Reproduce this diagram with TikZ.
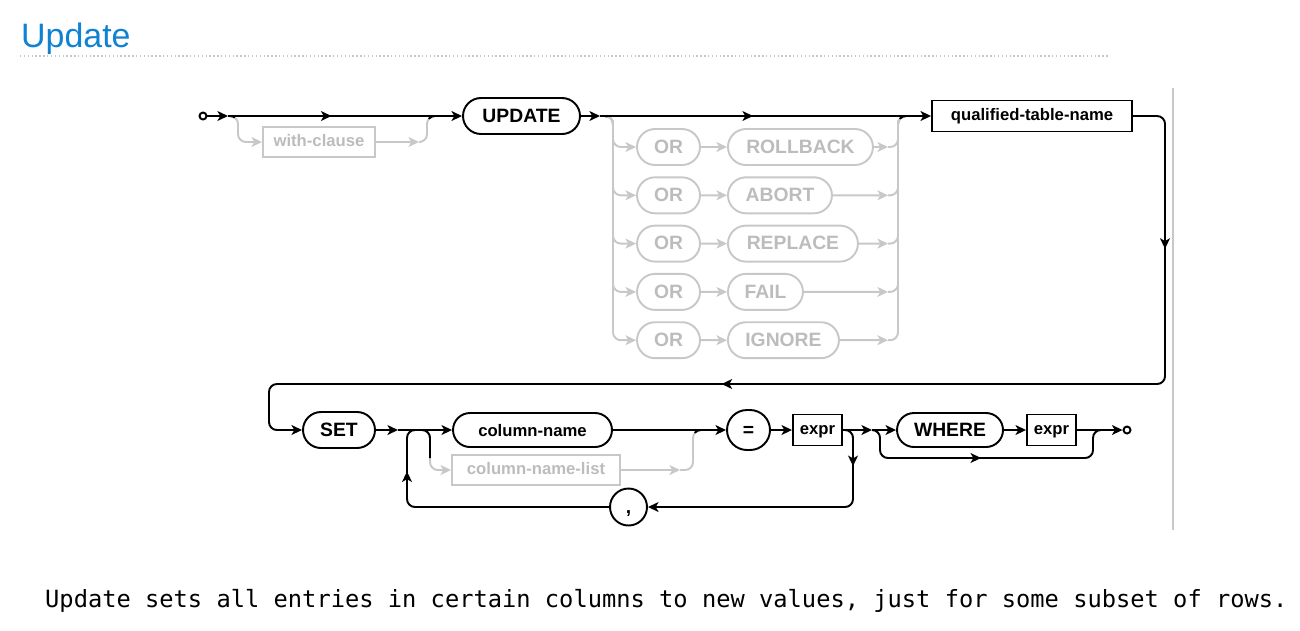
\documentclass[tikz,border=0pt]{standalone}
\usepackage{fontspec}
\setmainfont{Liberation Sans}
\newfontfamily\codefont{DejaVu Sans Mono}
\usepackage{xcolor}
\usepackage{tikz}
\usetikzlibrary{shapes.misc,arrows.meta,decorations.markings}

\definecolor{titleblue}{RGB}{16,130,210}
\definecolor{railgrey}{RGB}{200,200,200}
\definecolor{textgrey}{RGB}{188,188,188}

\tikzset{
  rail/.style={line width=1.1pt, black},
  greyrail/.style={line width=1.1pt, railgrey},
  tip/.style={-{Stealth[length=6pt,width=5.6pt,inset=1.6pt]}},
  midarrow/.style={postaction={decorate},
    decoration={markings, mark=at position #1 with {\arrow{Stealth[length=6pt,width=5.6pt,inset=1.6pt]}}}},
  twoarrows/.style 2 args={postaction={decorate},
    decoration={markings,
      mark=at position #1 with {\arrow{Stealth[length=6pt,width=5.6pt,inset=1.6pt]}},
      mark=at position #2 with {\arrow{Stealth[length=6pt,width=5.6pt,inset=1.6pt]}}}},
  hook/.style={rail, rounded corners=4.5pt, dash pattern=on 4pt off 300pt},
  keyword/.style={rounded rectangle, draw, line width=1.1pt, inner sep=0pt,
    text height=0.72em, text depth=0pt, font=\fontsize{11}{13}\selectfont\bfseries},
  ident/.style={rectangle, draw, line width=1.1pt, inner sep=0pt,
    text height=0.72em, text depth=0.2em, font=\fontsize{9.5}{11}\selectfont\bfseries},
  greykw/.style={keyword, draw=railgrey, text=textgrey},
  greyid/.style={ident, draw=railgrey, text=textgrey},
  dot/.style={circle, draw, fill=white, line width=1.1pt, inner sep=0pt, minimum size=0.14cm},
}

\begin{document}
\begin{tikzpicture}[x=0.02cm, y=-0.02cm]
    \useasboundingbox (0,0) rectangle (1300,630);

    % Heading and caption
    \node[anchor=base west, text=titleblue, font=\fontsize{19.3}{22}\selectfont] (title) at (15,47) {Update};
    \draw[railgrey, line width=0.6pt, dash pattern=on 0.8pt off 1.4pt] (20,56) -- (1108,56);
    \draw[railgrey, line width=0.6pt] (1173,88) -- (1173,530);
    \node[anchor=base west, font=\codefont\fontsize{13.5}{16}\selectfont] (caption) at (39,607)
        {Update sets all entries in certain columns to new values, just for some subset of rows.};

    % First line: UPDATE ... qualified-table-name
    \node[dot] (start) at (203,116) {};
    \coordinate (s1) at (228,116);
    \coordinate (m1) at (435,116);
    \node[keyword, minimum width=2.34cm, minimum height=0.72cm] (update) at (521.5,116) {UPDATE};
    \coordinate (s2) at (600,116);
    \coordinate (m2) at (906,116);
    \node[ident, minimum width=4cm, minimum height=0.62cm] (qtn) at (1032,116) {qualified-table-name};

    % optional with-clause
    \node[greyid, minimum width=2.24cm, minimum height=0.6cm] (with) at (319,142) {with-clause};
    \coordinate (w1) at (419,142);
    \draw[greyrail, rounded corners=4.5pt, tip] (s1) -| (238,142) -- (with);
    \draw[greyrail, tip] (with) -- (w1);
    \draw[greyrail, rounded corners=4.5pt] (w1) -| (427,116) -- (m1);

    % OR alternatives
    \foreach \kw/\w [count=\i from 0] in {ROLLBACK/2.9cm, ABORT/2.08cm, REPLACE/2.6cm, FAIL/1.5cm, IGNORE/2.22cm} {
        \node[greykw, minimum width=1.26cm, minimum height=0.72cm] (or\i) at (668.5,{147+48.3*\i}) {OR};
        \node[greykw, minimum width=\w, minimum height=0.72cm, anchor=west] (kw\i) at (727,{147+48.3*\i}) {\kw};
        \coordinate (rt\i) at (888,{147+48.3*\i});
        \draw[greyrail, rounded corners=4.5pt, tip] (s2) -| (613,{147+48.3*\i}) -- (or\i);
        \draw[greyrail, tip] (or\i) -- (kw\i);
        \draw[greyrail, tip] (kw\i) -- (rt\i);
        \draw[greyrail, rounded corners=4.5pt] (rt\i) -| (898,116) -- (m2);
    }

    % black ends of the bypass curves
    \draw[hook] (s1) -| (238,140);
    \draw[hook] (m1) -| (427,140);
    \draw[hook] (s2) -| (613,140);
    \draw[hook] (m2) -| (898,140);

    \draw[rail, tip] (start) -- (s1);
    \draw[rail, midarrow=0.5] (s1) -- (m1);
    \draw[rail, tip] (m1) -- (update);
    \draw[rail, tip] (update) -- (s2);
    \draw[rail, midarrow=0.5] (s2) -- (m2);
    \draw[rail, tip] (m2) -- (qtn);

    % Second line: SET ... WHERE expr
    \node[keyword, minimum width=1.44cm, minimum height=0.72cm] (set) at (339,430) {SET};
    \draw[rail, rounded corners=4.5pt, tip, twoarrows={0.128}{0.584}] (qtn.east) -| (1165,384) -| (269,430) -- (set);

    \coordinate (s3) at (398,430);
    \coordinate (j3) at (417,430);
    \coordinate (s4) at (422,430);
    \node[keyword, font=\fontsize{9.5}{11}\selectfont\bfseries, minimum width=3.18cm, minimum height=0.68cm] (colname) at (532.5,430) {column-name};
    \node[greyid, minimum width=3.36cm, minimum height=0.6cm] (colnamelist) at (536,470) {column-name-list};
    \coordinate (cl1) at (680,470);
    \coordinate (m3) at (701,430);
    \node[keyword, minimum width=0.86cm, minimum height=0.8cm] (eq) at (748.5,430) {=};
    \node[ident, minimum width=0.98cm, minimum height=0.62cm] (expr1) at (817.5,430) {expr};
    \node[circle, draw, line width=1.1pt, inner sep=0pt, minimum size=0.74cm,
          text height=0.72em, text depth=0pt,
          font=\fontsize{11}{13}\selectfont\bfseries] (comma) at (628.5,507) {,};
    \coordinate (s5) at (872,430);
    \node[keyword, minimum width=2.12cm, minimum height=0.68cm] (where) at (950,430) {WHERE};
    \node[ident, minimum width=0.98cm, minimum height=0.62cm] (expr2) at (1051.5,430) {expr};
    \coordinate (m5) at (1101,430);
    \node[dot] (end) at (1127,430) {};

    % column-name-list option
    \draw[greyrail, rounded corners=4.5pt, tip] (s4) -| (430,470) -- (colnamelist);
    \draw[greyrail, tip] (colnamelist) -- (cl1);
    \draw[greyrail, rounded corners=4.5pt] (cl1) -| (693,430) -- (m3);
    \draw[rail, rounded corners=4.5pt] (s4) -| (430,458);
    \draw[hook] (m3) -| (693,452);

    \draw[rail, tip] (set) -- (s3);
    \draw[rail, tip] (s3) -- (colname);
    \draw[rail] (colname) -- (m3);
    \draw[rail, tip] (m3) -- (eq);
    \draw[rail, tip] (eq) -- (expr1);

    % repeat with comma
    \draw[rail, rounded corners=4.5pt, tip, midarrow=0.15] (expr1.east) -| (853,507) -- (comma);
    \draw[rail, rounded corners=4.5pt, midarrow=0.83] (comma.west) -| (407,430) -- (j3);

    % optional WHERE
    \draw[rail, tip] (expr1) -- (s5);
    \draw[rail, tip] (s5) -- (where);
    \draw[rail, rounded corners=4.5pt, midarrow=0.48] (s5) -| (880,458) -| (1093,430) -- (m5);
    \draw[rail, tip] (where) -- (expr2);
    \draw[rail] (expr2) -- (m5);
    \draw[rail, tip] (m5) -- (end);

\end{tikzpicture}
\end{document}
